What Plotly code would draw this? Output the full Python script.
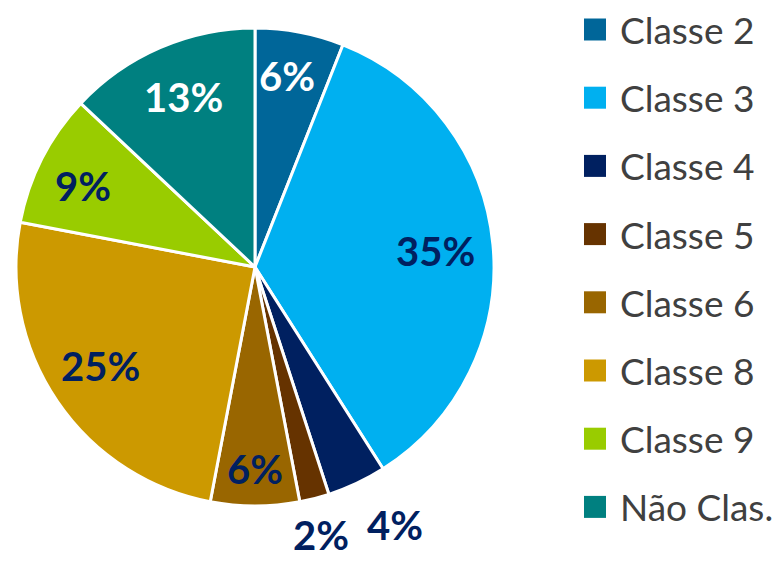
import math
import plotly.graph_objects as go

# ---- data ----
categories = ["Classe 2", "Classe 3", "Classe 4", "Classe 5", "Classe 6", "Classe 8", "Classe 9", "Não Clas."]
values = [6, 35, 4, 2, 6, 25, 9, 13]
value_labels = ["6%", "35%", "4%", "2%", "6%", "25%", "9%", "13%"]

# ---- style ----
colors = ["#006699", "#00B0F0", "#002060", "#663300", "#996600", "#CC9900", "#99CC00", "#008080"]
label_colors = ["#FFFFFF", "#002060", "#002060", "#002060", "#002060", "#002060", "#002060", "#FFFFFF"]
label_radius = [0.81, 0.76, 1.23, 1.155, 0.845, 0.77, 0.795, 0.77]
label_dtheta = [-1.3, 0.3, -3.3, 0.6, 0.0, 1.5, -1.8, 0.7]  # degrees

OFF = 8  # page body margin
W, H = 780 - OFF, 562 - OFF
cx, cy, R = 255 - OFF, 267 - OFF, 239  # pixel centre / radius of pie in figure
dom_x = [(cx - R) / W, (cx + R) / W]
dom_y = [1 - (cy + R) / H, 1 - (cy - R) / H]

fig = go.Figure()
fig.add_trace(go.Pie(
    labels=categories,
    values=values,
    sort=False,
    direction="clockwise",
    rotation=0,
    marker=dict(colors=colors, line=dict(color="white", width=3)),
    textinfo="none",
    hoverinfo="label+percent",
    showlegend=False,
    domain=dict(x=dom_x, y=dom_y),
))

annotations = []
shapes = []
total = sum(values)
cum = 0
for i, v in enumerate(values):
    mid = (cum + v / 2) / total * 2 * math.pi + math.radians(label_dtheta[i])
    cum += v
    r = label_radius[i] * R
    px = cx + r * math.sin(mid)
    py = cy - r * math.cos(mid)
    annotations.append(dict(
        x=px / W, y=1 - py / H, xref="paper", yref="paper",
        text=value_labels[i], showarrow=False,
        xanchor="center", yanchor="middle",
        font=dict(family="Lato", size=40, color=label_colors[i], weight="bold"),
    ))

# legend (manual, to match spacing)
leg_y0, leg_dy = 29.5 - OFF, 68.2
sq = 22
leg_x = 584 - OFF
for i, name in enumerate(categories):
    yc = leg_y0 + i * leg_dy
    shapes.append(dict(
        type="rect", xref="paper", yref="paper",
        x0=leg_x / W, x1=(leg_x + sq) / W,
        y0=1 - (yc + sq / 2) / H, y1=1 - (yc - sq / 2) / H,
        fillcolor=colors[i], line=dict(width=0),
    ))
    annotations.append(dict(
        x=(leg_x + 34) / W, y=1 - yc / H, xref="paper", yref="paper",
        text=name, showarrow=False, xanchor="left", yanchor="middle",
        font=dict(family="Lato", size=37, color="#404040"),
    ))

fig.update_layout(
    width=W, height=H,
    margin=dict(l=0, r=0, t=0, b=0),
    paper_bgcolor="white", plot_bgcolor="white",
    annotations=annotations, shapes=shapes,
    showlegend=False,
)
fig.write_html("out.html")
